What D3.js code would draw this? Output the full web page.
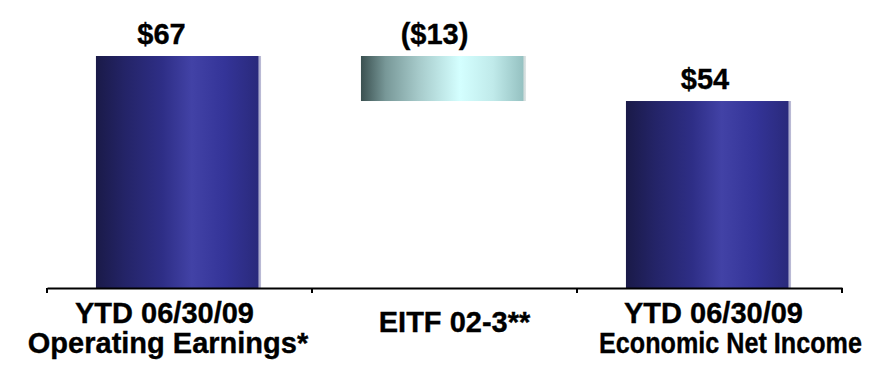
<!DOCTYPE html>
<html>
<head>
<meta charset="utf-8">
<script src="https://cdn.jsdelivr.net/npm/d3@7/dist/d3.min.js"></script>
<style>
  html, body { margin: 0; padding: 0; background: #ffffff; }
  svg { display: block; }
  text { font-family: "Liberation Sans", Arial, Helvetica, sans-serif; font-weight: bold; fill: #000; stroke: #000; stroke-width: 0.35px; }
</style>
</head>
<body>
<svg id="chart" width="869" height="365"></svg>
<script>
// ---- data ----
const categories = ["cat1", "cat2", "cat3"];
const categoryLines = [
  ["YTD 06/30/09", "Operating Earnings*"],
  ["EITF 02-3**"],
  ["YTD 06/30/09", "Economic Net Income"]
];
const barStart = [0, 67, 0];
const barEnd = [67, 54, 54];
const valueLabels = ["$67", "($13)", "$54"];
const barKind = ["total", "delta", "total"];

// ---- layout ----
const svg = d3.select("#chart");
const x = d3.scaleBand().domain(categories).range([47, 842]).paddingInner(0).paddingOuter(0);
const xb = d3.scaleBand().domain(categories).range([46, 841]).paddingInner(0.377).paddingOuter(0.1885);
const y = d3.scaleLinear().domain([0, 67]).range([288, 56]);

// gradients
const defs = svg.append("defs");
function grad(id, stops) {
  const g = defs.append("linearGradient").attr("id", id)
    .attr("x1", "0%").attr("x2", "100%").attr("y1", "0%").attr("y2", "0%");
  stops.forEach(s => g.append("stop").attr("offset", s[0]).attr("stop-color", s[1]));
}
grad("gTotal", [
  ["0%", "#1a1a48"], ["18%", "#242468"], ["40%", "#2e2e86"], ["58%", "#4242a6"],
  ["78%", "#343498"], ["98%", "#2a2a7c"], ["98.8%", "#a8a8cc"], ["100%", "#c0c0d8"]
]);
grad("gDelta", [
  ["0%", "#3a5050"], ["15%", "#789898"], ["35%", "#a6caca"], ["60%", "#d4ffff"],
  ["80%", "#c0eaea"], ["98%", "#96c2c2"], ["98.8%", "#d0dada"], ["100%", "#e0e6e6"]
]);

const idx = d3.range(categories.length);

// bars
svg.append("g").selectAll("rect").data(idx).join("rect")
  .attr("x", i => xb(categories[i]))
  .attr("width", xb.bandwidth())
  .attr("y", i => y(Math.max(barStart[i], barEnd[i])))
  .attr("height", i => Math.abs(y(barStart[i]) - y(barEnd[i])))
  .attr("fill", i => barKind[i] === "total" ? "url(#gTotal)" : "url(#gDelta)");

// axis
const axis = d3.axisBottom(x).tickSize(0).tickFormat("");
const ax = svg.append("g").attr("transform", `translate(0,${y(0)})`).call(axis);
ax.select(".domain").attr("stroke", "#000").attr("stroke-width", 2);
const bounds = categories.map(c => x(c)).concat([x.range()[1]]);
ax.selectAll(".bt").data(bounds).join("line")
  .attr("class", "bt")
  .attr("x1", d => d).attr("x2", d => d)
  .attr("y1", 0).attr("y2", 5)
  .attr("stroke", "#000").attr("stroke-width", 2);

// value labels
const valueDx = [-18, -10, -4.5];
svg.append("g").selectAll("text").data(idx).join("text")
  .attr("x", i => x(categories[i]) + x.bandwidth() / 2 + valueDx[i])
  .attr("y", i => y(Math.max(barStart[i], barEnd[i])) - 12)
  .attr("text-anchor", "middle")
  .attr("font-size", 29)
  .text(i => valueLabels[i]);

// category labels
const lineDx = [[-15, -11.5], [10], [4, 21]];
const lineScaleX = [[1, 1], [1], [1, 0.868]];
const catG = svg.append("g");
idx.forEach(i => {
  const lines = categoryLines[i];
  const cx = x(categories[i]) + x.bandwidth() / 2;
  lines.forEach((t, j) => {
    const yy = lines.length === 1 ? 332 : (j === 0 ? 323 : 353);
    catG.append("text")
      .attr("transform", `translate(${cx + lineDx[i][j]},${yy}) scale(${lineScaleX[i][j]},1)`)
      .attr("text-anchor", "middle")
      .attr("font-size", 29)
      .text(t);
  });
});
</script>
</body>
</html>
